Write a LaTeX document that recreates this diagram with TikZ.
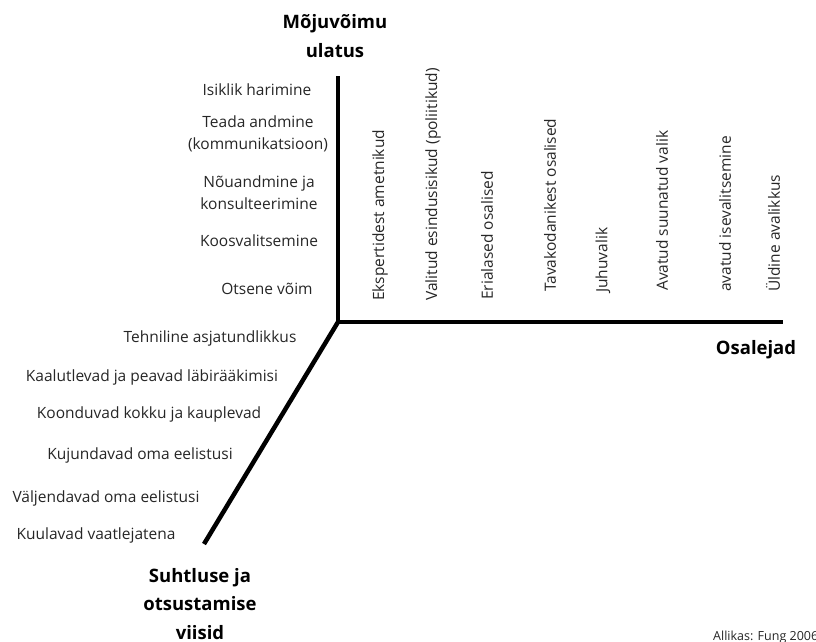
\documentclass[tikz,border=0pt]{standalone}
\usepackage{fontspec}
\setmainfont{Open Sans}
\begin{document}
\begin{tikzpicture}[x=1pt,y=-1pt,
  lab/.style={font=\fontsize{15.5}{22}\selectfont, text=black!85, inner sep=0pt, align=center},
  vlab/.style={font=\fontsize{15.5}{18}\selectfont, text=black!85, inner sep=0pt, rotate=90, anchor=west},
  ttl/.style={font=\bfseries\fontsize{18.5}{28.5}\selectfont, text=black, inner sep=0pt, align=center},
  axis/.style={line width=4.5pt, black}]
\useasboundingbox (0,0) rectangle (816,641);
\coordinate (O) at (338,322);
\coordinate (T) at (338,76);
\coordinate (R) at (783,322);
\coordinate (B) at (204,544);
\draw[axis, line join=miter] (T) -- (O) -- (R);
\draw[axis] (O) -- (B);
% titles
\node[ttl] (t1) at (335,36) {Mõjuvõimu\\ulatus};
\node[ttl] (t2) at (756,350) {Osalejad};
\node[ttl] (t3) at (200,604) {Suhtluse ja\\otsustamise\\viisid};
% vertical axis labels
\node[lab] (l1) at (257,90) {Isiklik harimine};
\node[lab] (l2) at (258,134) {Teada andmine\\(kommunikatsioon)};
\node[lab] (l3) at (259,193) {Nõuandmine ja\\konsulteerimine};
\node[lab] (l4) at (259,241) {Koosvalitsemine};
\node[lab] (l5) at (267,289) {Otsene võim};
% horizontal axis labels
\node[vlab] (h1) at (380,301) {Ekspertidest ametnikud};
\node[vlab] (h2) at (433,301) {Valitud esindusisikud (poliitikud)};
\node[vlab] (h3) at (487,300) {Erialased osalised};
\node[vlab] (h4) at (550,292) {Tavakodanikest osalised};
\node[vlab] (h5) at (603,293) {Juhuvalik};
\node[vlab] (h6) at (662,291) {Avatud suunatud valik};
\node[vlab] (h7) at (725,292) {avatud isevalitsemine};
\node[vlab] (h8) at (773,292) {Üldine avalikkus};
% diagonal axis labels
\node[lab] (d1) at (210,338) {Tehniline asjatundlikkus};
\node[lab] (d2) at (152,377) {Kaalutlevad ja peavad läbirääkimisi};
\node[lab] (d3) at (149,414) {Koonduvad kokku ja kauplevad};
\node[lab] (d4) at (140,455) {Kujundavad oma eelistusi};
\node[lab] (d5) at (106,498) {Väljendavad oma eelistusi};
\node[lab] (d6) at (96,535) {Kuulavad vaatlejatena};
% source
\node[font=\fontsize{12.5}{14}\selectfont, text=black!85, inner sep=0pt, anchor=west] (src) at (713,637) {Allikas: Fung 2006};
\end{tikzpicture}
\end{document}
